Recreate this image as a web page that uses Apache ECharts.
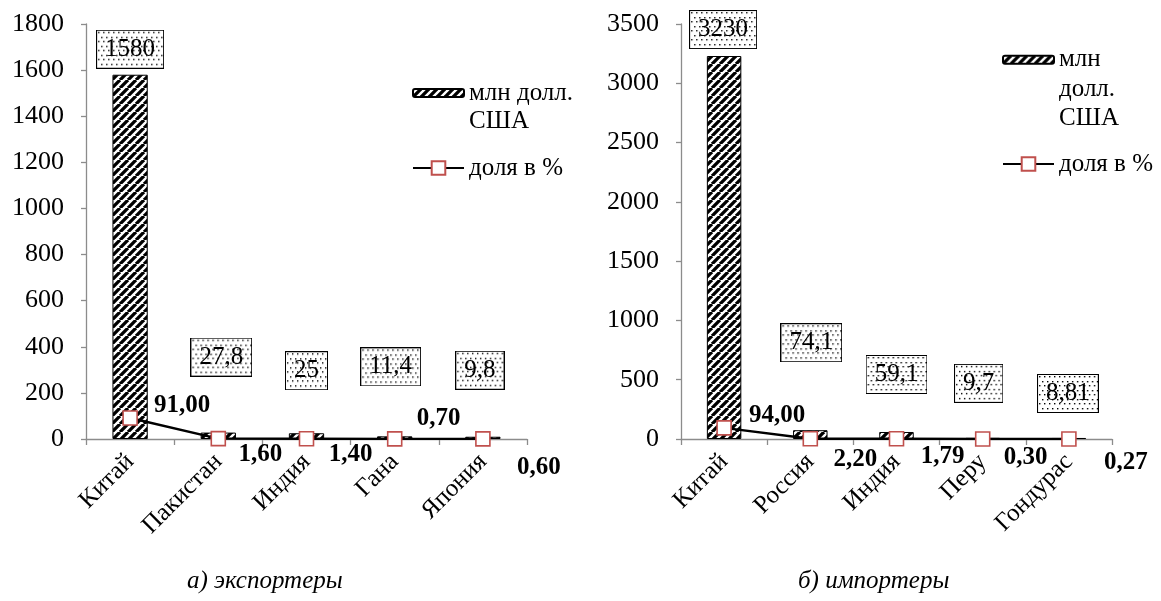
<!DOCTYPE html>
<html>
<head>
<meta charset="utf-8">
<script src="https://cdn.jsdelivr.net/npm/echarts@6/dist/echarts.min.js"></script>
<style>
  html, body { margin: 0; padding: 0; background: #fff; }
  #chart { width: 1161px; height: 601px; }
</style>
</head>
<body>
<div id="chart"></div>
<script>
// ---- data ----
const exportCountries = ['Китай', 'Пакистан', 'Индия', 'Гана', 'Япония'];
const exportValues = [1580, 27.8, 25, 11.4, 9.8];
const exportShare = [91, 1.6, 1.4, 0.7, 0.6];

const importCountries = ['Китай', 'Россия', 'Индия', 'Перу', 'Гондурас'];
const importValues = [3230, 74.1, 59.1, 9.7, 8.81];
const importShare = [94, 2.2, 1.79, 0.3, 0.27];

const exportTicks = { min: 0, max: 1800, interval: 200 };
const importTicks = { min: 0, max: 3500, interval: 500 };

const barName = 'млн долл. США';
const lineName = 'доля в %';
const captionA = 'а) экспортеры';
const captionB = 'б) импортеры';

// ---- label placement (moved labels, as in the original) ----
const exportBarLabelOffsets = [[0, -6], [3, -56], [0, -43], [-4, -50], [-3, -47]];
const importBarLabelOffsets = [[-1, -7], [1, -68], [0, -38], [-4, -35], [-1, -25]];
const exportLineLabelOffsets = [[52, -12], [42, 16], [44, 16], [44, -20], [56, 29]];
const importLineLabelOffsets = [[53, -12], [45, 21], [46, 18], [43, 19], [57, 24]];

// ---- styles ----
const FONT = '"Liberation Serif", "Times New Roman", serif';
const FS = 25;
const AXIS_GRAY = '#8c8c8c';
const MARKER_RED = '#c0504d';

function hatchPattern() {
  const c = document.createElement('canvas');
  c.width = 8; c.height = 8;
  const g = c.getContext('2d');
  g.fillStyle = '#fff'; g.fillRect(0, 0, 8, 8);
  g.strokeStyle = '#000'; g.lineWidth = 3.3;
  g.beginPath();
  for (let k = -8; k <= 8; k += 8) { g.moveTo(k, 8); g.lineTo(k + 8, 0); }
  g.stroke();
  return c;
}
const hatch = hatchPattern();

const measureCtx = document.createElement('canvas').getContext('2d');
measureCtx.font = FS + 'px ' + FONT;
const PADX = 9, PADY = 6, LH = 27;
function dotBox(text) {
  const w = Math.ceil(measureCtx.measureText(text).width) + 2 * PADX;
  const h = LH + 2 * PADY;
  const c = document.createElement('canvas');
  c.width = w; c.height = h;
  const g = c.getContext('2d');
  g.fillStyle = '#fff'; g.fillRect(0, 0, w, h);
  g.fillStyle = '#000';
  let row = 0;
  for (let y = 2; y < h - 1; y += 4.5, row++) {
    for (let x = 2 + (row % 2 ? 2.5 : 0); x < w - 1; x += 5) {
      g.fillRect(Math.round(x), Math.round(y), 1.4, 1.4);
    }
  }
  g.strokeStyle = '#000'; g.lineWidth = 1;
  g.strokeRect(0.5, 0.5, w - 1, h - 1);
  return c;
}

const fmtBar = v => String(v).replace('.', ',');
const fmtShare = v => v.toFixed(2).replace('.', ',');

function barData(values, offsets) {
  return values.map((v, i) => {
    const t = fmtBar(v);
    return {
      value: v,
      label: {
        show: true, position: 'top', distance: 0, offset: offsets[i],
        formatter: t, fontFamily: FONT, fontSize: FS, color: '#000',
        lineHeight: LH, padding: [PADY, PADX],
        backgroundColor: { image: dotBox(t) }
      }
    };
  });
}
function lineData(values, offsets) {
  return values.map((v, i) => ({
    value: v,
    label: {
      show: true, position: 'inside', offset: offsets[i],
      formatter: fmtShare(v), fontFamily: FONT, fontSize: FS,
      fontWeight: 'bold', color: '#000'
    }
  }));
}

function xAxis(cats, gridIndex) {
  return {
    type: 'category', gridIndex, data: cats, boundaryGap: true,
    axisLine: { show: true, lineStyle: { color: AXIS_GRAY, width: 1.3 } },
    axisTick: { show: true, length: 6, alignWithLabel: false, lineStyle: { color: AXIS_GRAY, width: 1.3 } },
    axisLabel: { interval: 0, rotate: 45, margin: 19, fontFamily: FONT, fontSize: FS, color: '#000' },
    splitLine: { show: false }
  };
}
function yAxis(ticks, gridIndex) {
  return {
    type: 'value', gridIndex, min: ticks.min, max: ticks.max, interval: ticks.interval,
    axisLine: { show: true, lineStyle: { color: AXIS_GRAY, width: 1.3 } },
    axisTick: { show: true, length: 5, lineStyle: { color: AXIS_GRAY, width: 1.3 } },
    axisLabel: { margin: 22, fontFamily: FONT, fontSize: 26, color: '#000', formatter: v => String(v) },
    splitLine: { show: false }
  };
}

function barSeries(values, offsets, idx) {
  return {
    name: barName, type: 'bar', xAxisIndex: idx, yAxisIndex: idx,
    data: barData(values, offsets), barWidth: '40%',
    itemStyle: { color: { image: hatch, repeat: 'repeat' }, borderColor: '#000', borderWidth: 1 },
    z: 2, silent: true
  };
}
function lineSeries(values, offsets, idx) {
  return {
    name: lineName, type: 'line', xAxisIndex: idx, yAxisIndex: idx,
    data: lineData(values, offsets),
    symbol: 'rect', symbolSize: 14, showAllSymbol: true,
    lineStyle: { color: '#000', width: 2.4 },
    itemStyle: { color: '#fff', borderColor: MARKER_RED, borderWidth: 1.6 },
    z: 4, silent: true
  };
}

const legendText = { fontFamily: FONT, fontSize: FS, color: '#000', lineHeight: 28 };
const legendTextB = { fontFamily: FONT, fontSize: FS, color: '#000', lineHeight: 29.5 };
// leading blank lines keep the first text line level with the legend icon
const fmtA = () => '\nмлн долл.\nСША';
const fmtB = () => '\n\nмлн\nдолл.\nСША';

const option = {
  animation: false,
  backgroundColor: '#fff',
  grid: [
    { left: 86, right: 1161 - 527, top: 24, bottom: 601 - 439 },
    { left: 681, right: 1161 - 1112, top: 24, bottom: 601 - 439 }
  ],
  xAxis: [xAxis(exportCountries, 0), xAxis(importCountries, 1)],
  yAxis: [yAxis(exportTicks, 0), yAxis(importTicks, 1)],
  legend: [
    { data: [barName], orient: 'vertical', left: 412, top: 51, padding: 0, selectedMode: false,
      itemWidth: 51, itemHeight: 8, formatter: fmtA, textStyle: legendText },
    { data: [lineName], orient: 'vertical', left: 412, top: 154, padding: 0, selectedMode: false,
      itemWidth: 51, itemHeight: 17, textStyle: legendText },
    { data: [barName], orient: 'vertical', left: 1002, top: -14, padding: 0, selectedMode: false,
      itemWidth: 51, itemHeight: 8, formatter: fmtB, textStyle: legendTextB },
    { data: [lineName], orient: 'vertical', left: 1002, top: 150, padding: 0, selectedMode: false,
      itemWidth: 51, itemHeight: 17, textStyle: legendText }
  ],
  title: [
    { text: captionA, left: 187, top: 569, padding: 0,
      textStyle: { fontFamily: FONT, fontSize: 25, fontStyle: 'italic', fontWeight: 'normal', color: '#000' } },
    { text: captionB, left: 798, top: 569, padding: 0,
      textStyle: { fontFamily: FONT, fontSize: 25, fontStyle: 'italic', fontWeight: 'normal', color: '#000' } }
  ],
  series: [
    barSeries(exportValues, exportBarLabelOffsets, 0),
    lineSeries(exportShare, exportLineLabelOffsets, 0),
    barSeries(importValues, importBarLabelOffsets, 1),
    lineSeries(importShare, importLineLabelOffsets, 1)
  ]
};

const chart = echarts.init(document.getElementById('chart'), null, { renderer: 'canvas' });
chart.setOption(option);
</script>
</body>
</html>
